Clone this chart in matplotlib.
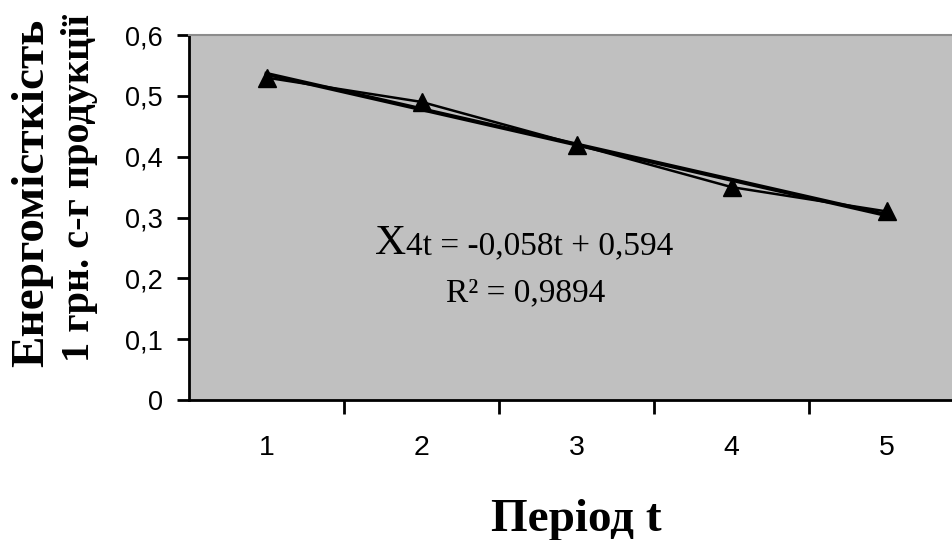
import numpy as np
import matplotlib.pyplot as plt

plt.rcParams["font.family"] = "Liberation Sans"

# energy intensity per period
t = [1, 2, 3, 4, 5]
x4 = [0.53, 0.49, 0.42, 0.35, 0.31]
yticks = [0, 0.1, 0.2, 0.3, 0.4, 0.5, 0.6]
ytick_labels = ["0", "0,1", "0,2", "0,3", "0,4", "0,5", "0,6"]

# linear trend
k, b = np.polyfit(t, x4, 1)
trend = [k * ti + b for ti in t]

fig = plt.figure(figsize=(9.53, 5.4), dpi=100)
# plot area runs a little past the right edge of the figure
ax = fig.add_axes([189 / 953, 140 / 540, 775 / 953, 365 / 540])
ax.set_facecolor("#c0c0c0")

ax.plot(t, x4, color="black", lw=1.8, marker="^", ms=13, zorder=3)
ax.plot(t, trend, color="black", lw=3.0, zorder=2)

ax.set_xlim(0.5, 5.5)
ax.set_ylim(0, 0.6)
ax.set_xticks([1.5, 2.5, 3.5, 4.5], minor=False)
ax.set_xticks(t, minor=True)
ax.set_xticklabels([])
ax.set_xticklabels([str(v) for v in t], minor=True)
ax.tick_params(axis="x", which="major", direction="out", length=10, width=2)
ax.tick_params(axis="x", which="minor", length=0, pad=25, labelsize=20.5)
ax.set_yticks(yticks)
ax.set_yticklabels(ytick_labels)
ax.tick_params(axis="y", direction="out", length=9, width=2, pad=10, labelsize=19.5)

ax.spines["left"].set_linewidth(2)
ax.spines["bottom"].set_linewidth(2)
ax.spines["right"].set_visible(False)
ax.spines["top"].set_color("#8c8c8c")
ax.spines["top"].set_linewidth(1.5)

ax.text(1.9, 0.24, "X", family="Liberation Serif", fontsize=31,
        ha="right", va="baseline")
ax.text(1.9, 0.24, "4t = -0,058t + 0,594", family="Liberation Serif",
        fontsize=24, ha="left", va="baseline")
ax.text(2.67, 0.163, "R² = 0,9894", family="Liberation Serif",
        fontsize=24, ha="center", va="baseline")

ax.set_xlabel("Період t", family="Liberation Serif", fontweight="bold",
              fontsize=34)
ax.xaxis.set_label_coords(0.5, -0.27)

# two-line y axis title
fig.text(32 / 953, 1 - 193 / 540, "Енергомісткість",
         family="Liberation Serif", fontweight="bold", fontsize=34,
         rotation=90, ha="center", va="center")
fig.text(80 / 953, 1 - 188 / 540, "1 грн. с-г продукції",
         family="Liberation Serif", fontweight="bold", fontsize=29,
         rotation=90, ha="center", va="center")

fig.savefig("out.png", dpi=100)
